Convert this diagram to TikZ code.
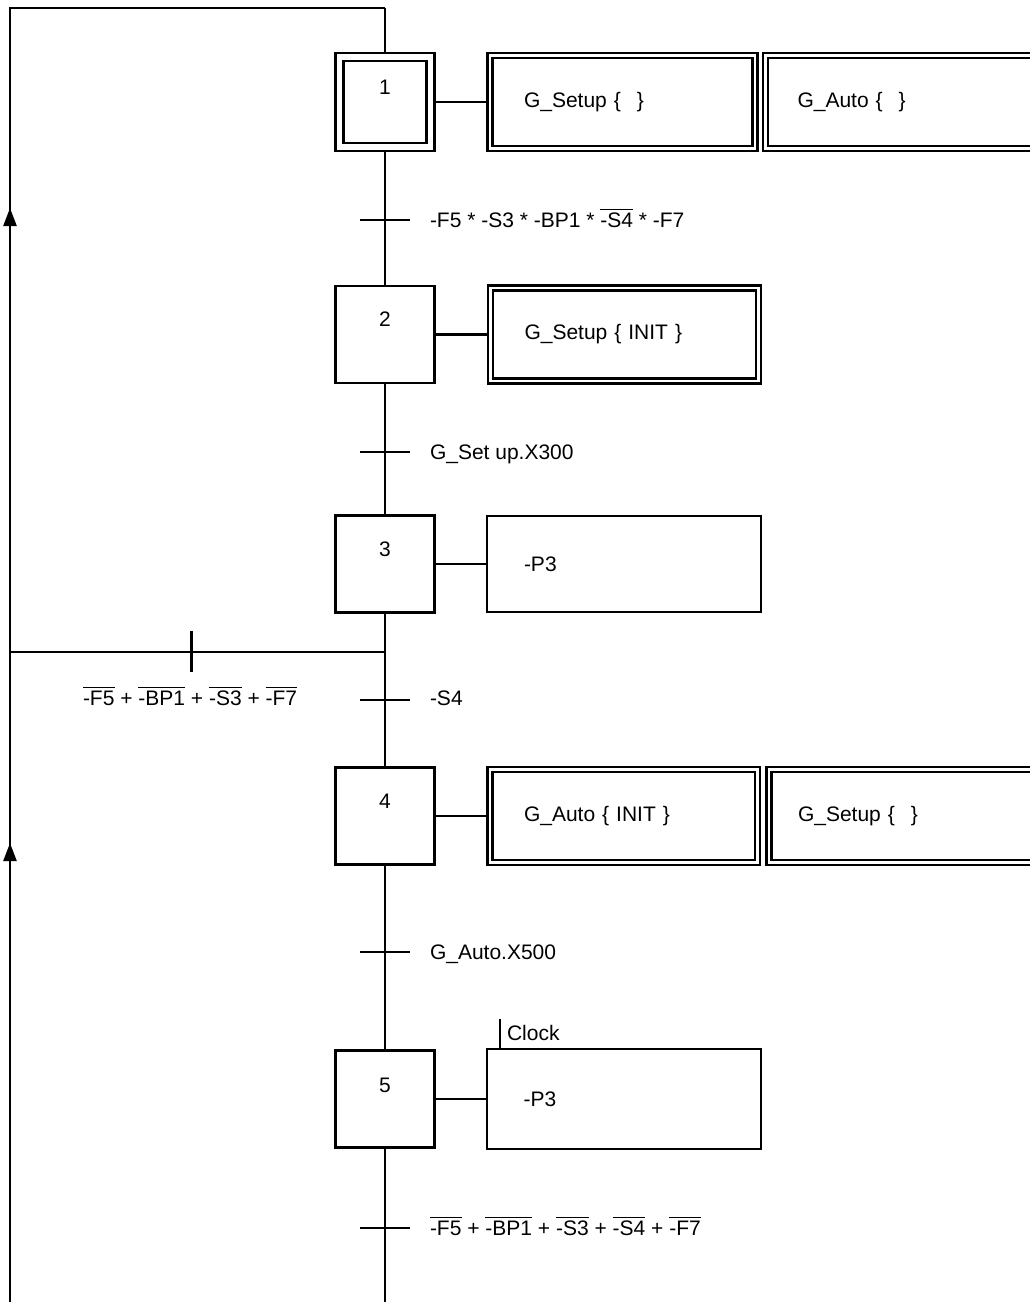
\documentclass[tikz,border=0pt]{standalone}
\usepackage{fontspec}
\setmainfont{Liberation Sans}
\usetikzlibrary{calc,arrows.meta,decorations.markings,backgrounds}
\newcommand\ovl[1]{\leavevmode\vbox{\hrule height 1.4pt\kern 2.2pt\hbox{#1}}}
\begin{document}
\begin{tikzpicture}[x=1pt,y=-1pt,line width=2.4pt,
  every node/.style={font=\fontsize{21}{25}\selectfont, inner sep=0pt, outer sep=0pt},
  wire/.style={line width=2.4pt},
  stepbox/.style={draw, line width=2.4pt, minimum width=99pt, minimum height=97pt},
  initstep/.style={draw, line width=2.2pt, double, double distance=5.8pt, minimum width=91pt, minimum height=90pt},
  actbox/.style={draw, line width=2.4pt, minimum height=96pt, text width=#1, align=left, inner xsep=37pt, anchor=west},
  dactbox/.style={draw, double, double distance=2.4pt, line width=2.4pt, minimum height=93pt,
                  text width=#1, align=left, inner xsep=34pt, anchor=west},
  tlabel/.style={anchor=base west}
]
\useasboundingbox (0,0) rectangle (1030,1302);
\clip (0,0) rectangle (1030,1302);

% steps
\node[initstep] (s1) at (385,102) {};
\node[stepbox] (s2) at (385,334.5) {};
\node[stepbox] (s3) at (385,564) {};
\node[stepbox] (s4) at (385,816) {};
\node[stepbox] (s5) at (385,1099) {};

\node (n1) at ($(s1.north)+(0,30)$) {1};
\node (n2) at ($(s2.north)+(0,33)$) {2};
\node (n3) at ($(s3.north)+(0,34)$) {3};
\node (n4) at ($(s4.north)+(0,34)$) {4};
\node (n5) at ($(s5.north)+(0,35)$) {5};

% actions
\node[dactbox=197pt] (a1) at (490,102) {G\_Setup \{\hspace{16pt}\}};
\node[dactbox=215pt, inner xsep=32pt] (a1b) at (765.5,102) {G\_Auto \{\hspace{16pt}\}};
\node[dactbox=200pt] (a2) at (490.5,334.5) {G\_Setup \{ INIT \}};
\node[actbox=200pt] (a3) at (487,564) {-P3};
\node[dactbox=199.5pt] (a4) at (490,816) {G\_Auto \{ INIT \}};
\node[dactbox=220pt, inner xsep=29pt] (a4b) at (769,816) {G\_Setup \{\hspace{16pt}\}};
\node[actbox=200.3pt, minimum height=100pt] (a5) at (486.7,1099) {-P3};

% coordinates
\coordinate (top) at (385,8);
\coordinate (tl) at (10,8);
\coordinate (bl) at (10,1320);
\coordinate (bot) at (385,1320);
\coordinate (t1) at (385,220);
\coordinate (t2) at (385,452);
\coordinate (t3) at (385,700);
\coordinate (t4) at (385,952);
\coordinate (t5) at (385,1228);
\coordinate (br) at (385,652);
\coordinate (brl) at (10,652);
\coordinate (bt) at (191.5,652);
\coordinate (ck) at ($(a5.north west)+(13.3,0)$);

\begin{scope}[on background layer, wire]
  \draw[wire] (top) -- (s1.north);
  \draw[wire] (s1.south) -- (s2.north);
  \draw[wire] (s2.south) -- (s3.north);
  \draw[wire] (s3.south) -- (s4.north);
  \draw[wire] (s4.south) -- (s5.north);
  \draw[wire] (s5.south) -- (bot);
  \draw[wire] (s1.east) -- (a1.west);
  \draw[wire] (s2.east) -- (a2.west);
  \draw[wire] (s3.east) -- (a3.west);
  \draw[wire] (s4.east) -- (a4.west);
  \draw[wire] (s5.east) -- (a5.west);
  \draw[wire, postaction={decorate},
        decoration={markings,
          mark=at position 477pt with {\arrow{Triangle[length=18pt,width=13pt]}},
          mark=at position 1112pt with {\arrow{Triangle[length=18pt,width=13pt]}}}]
        (bl) -- (tl) -- (top);
  \draw[wire] (br) -- (brl);
\end{scope}

% transitions
\foreach \t in {t1,t2,t3,t4,t5}{
  \draw[wire] ($(\t)+(-25,0)$) -- ($(\t)+(25,0)$);
}
\draw[wire] ($(bt)+(0,-21)$) -- ($(bt)+(0,20)$);

% transition labels
\node[tlabel] (l1) at (430,227) {-F5 * -S3 * -BP1 * \ovl{-S4} * -F7};
\node[tlabel] (l2) at (430,459) {G\_Set up.X300};
\node[tlabel] (l3) at (430,705) {-S4};
\node[tlabel] (lb) at (83,705) {\ovl{-F5} + \ovl{-BP1} + \ovl{-S3} + \ovl{-F7}};
\node[tlabel] (l4) at (430,959) {G\_Auto.X500};
\node[tlabel] (l5) at (430,1235) {\ovl{-F5} + \ovl{-BP1} + \ovl{-S3} + \ovl{-S4} + \ovl{-F7}};

% clock
\draw[wire] (ck) -- ++(0,-30);
\node[tlabel] (clk) at (507,1040) {Clock};
\end{tikzpicture}
\end{document}
